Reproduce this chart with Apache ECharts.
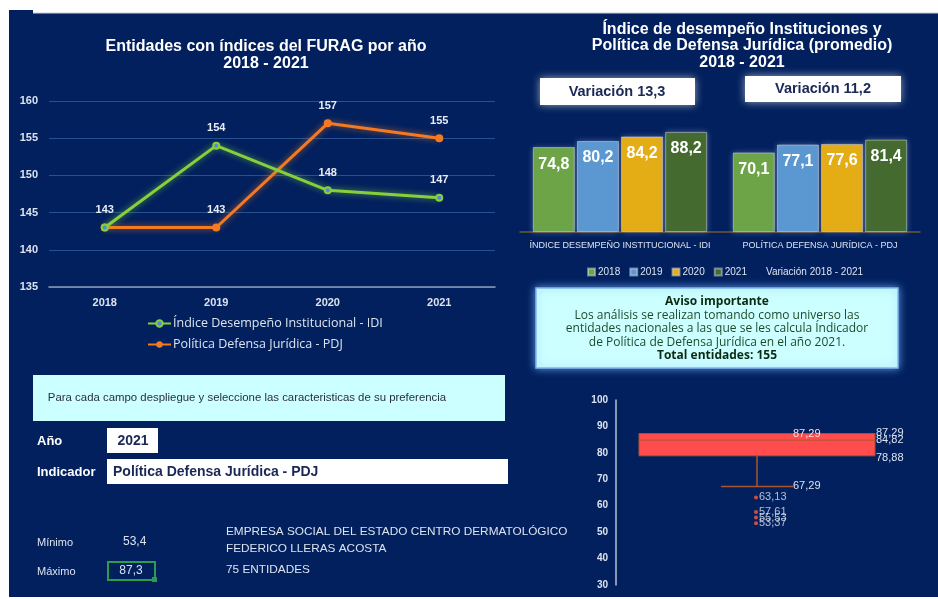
<!DOCTYPE html>
<html>
<head>
<meta charset="utf-8">
<script src="https://cdn.jsdelivr.net/npm/echarts@6/dist/echarts.min.js"></script>
<style>
  html, body { margin: 0; padding: 0; background: #fff; }
  #main { width: 938px; height: 599px; }
</style>
</head>
<body>
<div id="main"></div>
<script>
// datos del tablero
var years = ['2018', '2019', '2020', '2021'];
var idiCount = [143, 154, 148, 147];
var pdjCount = [143, 143, 157, 155];
var lineTicks = [135, 160, 5];

var indicators = ['ÍNDICE DESEMPEÑO INSTITUCIONAL - IDI', 'POLÍTICA DEFENSA JURÍDICA - PDJ'];
var avg2018 = [74.8, 70.1];
var avg2019 = [80.2, 77.1];
var avg2020 = [84.2, 77.6];
var avg2021 = [88.2, 81.4];
var variacion = [13.3, 11.2];

// caja PDJ 2021: bigote inf, Q1, mediana, Q3, bigote sup
var boxStats = [67.29, 78.88, 84.82, 87.29, 87.29];
var outliers = [63.13, 57.61, 55.53, 53.37];
var boxTicks = [30, 100, 10];
var minimo = 53.4, maximo = 87.3, totalEntidades = 155, nEntidades = 75;

var navy = '#02205e';
var light = '#dce3ef';
function coma(v, d) { return v.toFixed(d).replace('.', ','); }

var myChart = echarts.init(document.getElementById('main'));

var barColors = ['#6ca447', '#5b97d0', '#e4ad16', '#446a2f'];
var barData = [avg2018, avg2019, avg2020, avg2021];
var barSeries = [];
for (var i = 0; i < years.length; i++) {
  barSeries.push({
    name: years[i], type: 'bar', xAxisIndex: 1, yAxisIndex: 1,
    data: barData[i], barWidth: 42, barGap: '5%',
    itemStyle: { color: barColors[i], borderColor: 'rgba(230,235,245,0.45)', borderWidth: 1,
      shadowBlur: 6, shadowColor: 'rgba(200,210,235,0.35)' },
    label: { show: true, position: 'insideTop', distance: 9, color: '#fff', fontSize: 16,
      fontWeight: 'bold', fontFamily: 'Liberation Sans', formatter: function (p) { return coma(p.value, 1); } }
  });
}

// la etiqueta 143 de 2018 sale una sola vez
var pdjData = pdjCount.map(function (v, i) {
  return i === 0 ? { value: v, label: { show: false } } : v;
});

var option = {
  backgroundColor: '#ffffff',
  animation: false,
  textStyle: { fontFamily: 'Liberation Sans' },
  title: [
    { text: 'Entidades con índices del FURAG por año\n2018 - 2021', left: 261, top: 33, textAlign: 'center',
      textStyle: { color: '#fff', fontSize: 16, fontWeight: 'bold', lineHeight: 17 } },
    { text: 'Índice de desempeño Instituciones y\nPolítica de Defensa Jurídica (promedio)\n2018 - 2021', left: 737, top: 16,
      textAlign: 'center', textStyle: { color: '#fff', fontSize: 16, fontWeight: 'bold', lineHeight: 16.5 } }
  ],
  legend: [
    { orient: 'vertical', left: 142, top: 312, itemGap: 8, itemWidth: 23, itemHeight: 8,
      data: ['Índice Desempeño Institucional - IDI', 'Política Defensa Jurídica - PDJ'],
      textStyle: { color: light, fontSize: 12.5, fontFamily: 'Open Sans', padding: [0, 0, 0, -3] } },
    { left: 582, top: 262, itemGap: 9, itemWidth: 7, itemHeight: 7, icon: 'rect',
      data: years.concat([{ name: 'Variación 2018 - 2021', icon: 'none' }]),
      textStyle: { color: light, fontSize: 10, padding: [0, 0, 0, -2] } }
  ],
  grid: [
    { left: 49, right: 443, top: 101, bottom: 312 },
    { left: 520, right: 18, top: 118.5, bottom: 367 },
    { left: 616, right: 40, top: 400, bottom: 14 }
  ],
  xAxis: [
    { type: 'category', gridIndex: 0, data: years, boundaryGap: true,
      axisLine: { lineStyle: { color: '#8d9ab8', width: 1.5 } }, axisTick: { show: false },
      axisLabel: { color: light, fontSize: 11, fontWeight: 'bold', margin: 10 } },
    { type: 'category', gridIndex: 1, data: indicators,
      axisLine: { lineStyle: { color: '#6e5a30', width: 1.5 } }, axisTick: { show: false },
      axisLabel: { color: light, fontSize: 9, margin: 9, interval: 0 } },
    { type: 'category', gridIndex: 2, data: ['PDJ'], show: false }
  ],
  yAxis: [
    { type: 'value', gridIndex: 0, min: lineTicks[0], max: lineTicks[1], interval: lineTicks[2],
      axisLine: { show: false }, axisTick: { show: false },
      splitLine: { lineStyle: { color: '#26508f', width: 1 } },
      axisLabel: { color: light, fontSize: 11, fontWeight: 'bold', margin: 11 } },
    { type: 'value', gridIndex: 1, min: 0, max: 100, show: false },
    { type: 'value', gridIndex: 2, min: boxTicks[0], max: boxTicks[1], interval: boxTicks[2],
      axisLine: { show: true, lineStyle: { color: '#b9c1d2', width: 1.5 } }, axisTick: { show: false },
      splitLine: { show: false },
      axisLabel: { color: light, fontSize: 10, fontWeight: 'bold', margin: 8 } }
  ],
  graphic: [
    { type: 'rect', shape: { x: 9, y: 13, width: 929, height: 584 }, style: { fill: navy }, z: -10 },
    { type: 'rect', shape: { x: 9, y: 10, width: 24, height: 4 }, style: { fill: navy }, z: -10 },
    { type: 'line', shape: { x1: 33, y1: 13, x2: 938, y2: 13 }, style: { stroke: '#c8cfdc', lineWidth: 1 }, z: -9 },
    // cajas de variacion
    { type: 'rect', shape: { x: 540, y: 78, width: 155, height: 27 },
      style: { fill: '#fff', shadowBlur: 8, shadowColor: 'rgba(255,255,255,0.6)' } },
    { type: 'text', x: 617, y: 92, style: { text: 'Variación ' + coma(variacion[0], 1), fill: '#1b2856',
      font: 'bold 14.5px "Liberation Sans"', align: 'center', verticalAlign: 'middle' } },
    { type: 'rect', shape: { x: 745, y: 76, width: 156, height: 26 },
      style: { fill: '#fff', shadowBlur: 8, shadowColor: 'rgba(255,255,255,0.6)' } },
    { type: 'text', x: 823, y: 89, style: { text: 'Variación ' + coma(variacion[1], 1), fill: '#1b2856',
      font: 'bold 14.5px "Liberation Sans"', align: 'center', verticalAlign: 'middle' } },
    // aviso
    { type: 'rect', shape: { x: 536, y: 288, width: 362, height: 80 },
      style: { fill: '#ccffff', stroke: '#7fb6f0', lineWidth: 1.5, shadowBlur: 8, shadowColor: 'rgba(120,180,255,0.8)' } },
    { type: 'text', x: 717, y: 302, style: { text: 'Aviso importante', fill: '#0c2a12',
      font: 'bold 12px "Open Sans"', align: 'center', verticalAlign: 'middle' } },
    { type: 'text', x: 717, y: 329, style: { text: 'Los análisis se realizan tomando como universo las\nentidades nacionales a las que se les calcula Índicador\nde Política de Defensa Jurídica en el año 2021.',
      fill: '#1f4a2a', font: '12px "Open Sans"', lineHeight: 13.2, align: 'center', verticalAlign: 'middle' } },
    { type: 'text', x: 717, y: 356, style: { text: 'Total entidades: ' + totalEntidades, fill: '#0c2a12',
      font: 'bold 12px "Open Sans"', align: 'center', verticalAlign: 'middle' } },
    // filtros
    { type: 'rect', shape: { x: 33, y: 375, width: 472, height: 46 }, style: { fill: '#ccffff' } },
    { type: 'text', x: 247, y: 398, style: { text: 'Para cada campo despliegue y seleccione las caracteristicas de su preferencia',
      fill: '#2a2f3a', font: '11.4px "Liberation Sans"', align: 'center', verticalAlign: 'middle' } },
    { type: 'text', x: 37, y: 441, style: { text: 'Año', fill: '#fff', font: 'bold 13px "Liberation Sans"', verticalAlign: 'middle' } },
    { type: 'rect', shape: { x: 107, y: 428, width: 51, height: 25 }, style: { fill: '#fff' } },
    { type: 'text', x: 133, y: 441, style: { text: '2021', fill: '#1b2856', font: 'bold 14px "Liberation Sans"',
      align: 'center', verticalAlign: 'middle' } },
    { type: 'text', x: 37, y: 472, style: { text: 'Indicador', fill: '#fff', font: 'bold 13px "Liberation Sans"', verticalAlign: 'middle' } },
    { type: 'rect', shape: { x: 107, y: 459, width: 401, height: 25 }, style: { fill: '#fff' } },
    { type: 'text', x: 113, y: 472, style: { text: 'Política Defensa Jurídica - PDJ', fill: '#1b2856',
      font: 'bold 14px "Liberation Sans"', verticalAlign: 'middle' } },
    { type: 'text', x: 37, y: 543, style: { text: 'Mínimo', fill: light, font: '11px "Liberation Sans"', verticalAlign: 'middle' } },
    { type: 'text', x: 123, y: 542, style: { text: coma(minimo, 1), fill: light, font: '12px "Liberation Sans"', verticalAlign: 'middle' } },
    { type: 'text', x: 37, y: 572, style: { text: 'Máximo', fill: light, font: '11px "Liberation Sans"', verticalAlign: 'middle' } },
    { type: 'rect', shape: { x: 108, y: 562, width: 47, height: 18 }, style: { fill: 'none', stroke: '#2f9b4c', lineWidth: 2 } },
    { type: 'rect', shape: { x: 152, y: 577, width: 5, height: 5 }, style: { fill: '#2f9b4c' } },
    { type: 'text', x: 131, y: 571, style: { text: coma(maximo, 1), fill: light, font: '12px "Liberation Sans"',
      align: 'center', verticalAlign: 'middle' } },
    { type: 'text', x: 226, y: 532, style: { text: 'EMPRESA SOCIAL DEL ESTADO CENTRO DERMATOLÓGICO', fill: light,
      font: '11.8px "Liberation Sans"', verticalAlign: 'middle' } },
    { type: 'text', x: 226, y: 549, style: { text: 'FEDERICO LLERAS ACOSTA', fill: light,
      font: '11.8px "Liberation Sans"', verticalAlign: 'middle' } },
    { type: 'text', x: 226, y: 570, style: { text: nEntidades + ' ENTIDADES', fill: light,
      font: '11.8px "Liberation Sans"', verticalAlign: 'middle' } }
  ],
  series: [
    { name: 'Índice Desempeño Institucional - IDI', type: 'line', xAxisIndex: 0, yAxisIndex: 0, data: idiCount,
      symbol: 'circle', symbolSize: 6, z: 4,
      lineStyle: { color: '#86d03c', width: 3, shadowBlur: 6, shadowColor: 'rgba(134,208,60,0.7)' },
      itemStyle: { color: '#5a86d6', borderColor: '#86d03c', borderWidth: 2 },
      label: { show: true, position: 'top', distance: 8, color: '#e8ecf4', fontSize: 11, fontWeight: 'bold' } },
    { name: 'Política Defensa Jurídica - PDJ', type: 'line', xAxisIndex: 0, yAxisIndex: 0, data: pdjData,
      symbol: 'circle', symbolSize: 8, z: 3,
      lineStyle: { color: '#f47a22', width: 3, shadowBlur: 6, shadowColor: 'rgba(244,122,34,0.7)' },
      itemStyle: { color: '#f47a22' },
      label: { show: true, position: 'top', distance: 8, color: '#e8ecf4', fontSize: 11, fontWeight: 'bold' } }
  ].concat(barSeries).concat([
    { name: 'Variación 2018 - 2021', type: 'line', xAxisIndex: 1, yAxisIndex: 1, data: [], symbol: 'none' },
    { type: 'custom', xAxisIndex: 2, yAxisIndex: 2, z: 3,
      data: [[0].concat(boxStats)],
      encode: { x: 0, y: [1, 2, 3, 4, 5] },
      renderItem: function (params, api) {
        var cx = api.coord([0, api.value(3)])[0];
        var yLo = api.coord([0, api.value(1)])[1];
        var yQ1 = api.coord([0, api.value(2)])[1];
        var yMed = api.coord([0, api.value(3)])[1];
        var yQ3 = api.coord([0, api.value(4)])[1];
        var yHi = api.coord([0, api.value(5)])[1];
        var hw = 118, cap = 36, stroke = '#a9552c';
        var lab = function (t, x, y, c) {
          return { type: 'text', z2: 5, style: { text: t, x: x, y: y, fill: c || light,
            font: '11px "Liberation Sans"', align: 'left', verticalAlign: 'middle' } };
        };
        return { type: 'group', children: [
          { type: 'line', shape: { x1: cx, y1: yQ1, x2: cx, y2: yLo }, style: { stroke: stroke, lineWidth: 1.5 } },
          { type: 'line', shape: { x1: cx - cap, y1: yLo, x2: cx + cap, y2: yLo }, style: { stroke: stroke, lineWidth: 1.5 } },
          { type: 'rect', shape: { x: cx - hw, y: yQ3, width: hw * 2, height: yQ1 - yQ3 },
            style: { fill: '#ff4d4d', stroke: stroke, lineWidth: 1 } },
          { type: 'line', shape: { x1: cx - hw, y1: yMed, x2: cx + hw, y2: yMed }, style: { stroke: stroke, lineWidth: 1 } },
          lab(coma(api.value(5), 2), cx + cap, yHi, '#ffdede'),
          lab(coma(api.value(1), 2), cx + cap, yLo),
          lab(coma(api.value(4), 2), cx + hw + 1, yQ3 - 1),
          lab(coma(api.value(3), 2), cx + hw + 1, yMed),
          lab(coma(api.value(2), 2), cx + hw + 1, yQ1 + 2)
        ] };
      } },
    { type: 'scatter', xAxisIndex: 2, yAxisIndex: 2, z: 4,
      data: outliers.map(function (v) { return [0, v]; }),
      symbolSize: 4, symbolOffset: [-1, 0], itemStyle: { color: '#ff5a3c' },
      label: { show: true, position: 'right', distance: 1, color: light, fontSize: 11,
        formatter: function (p) { return coma(p.value[1], 2); } } }
  ])
};
myChart.setOption(option);
</script>
</body>
</html>
